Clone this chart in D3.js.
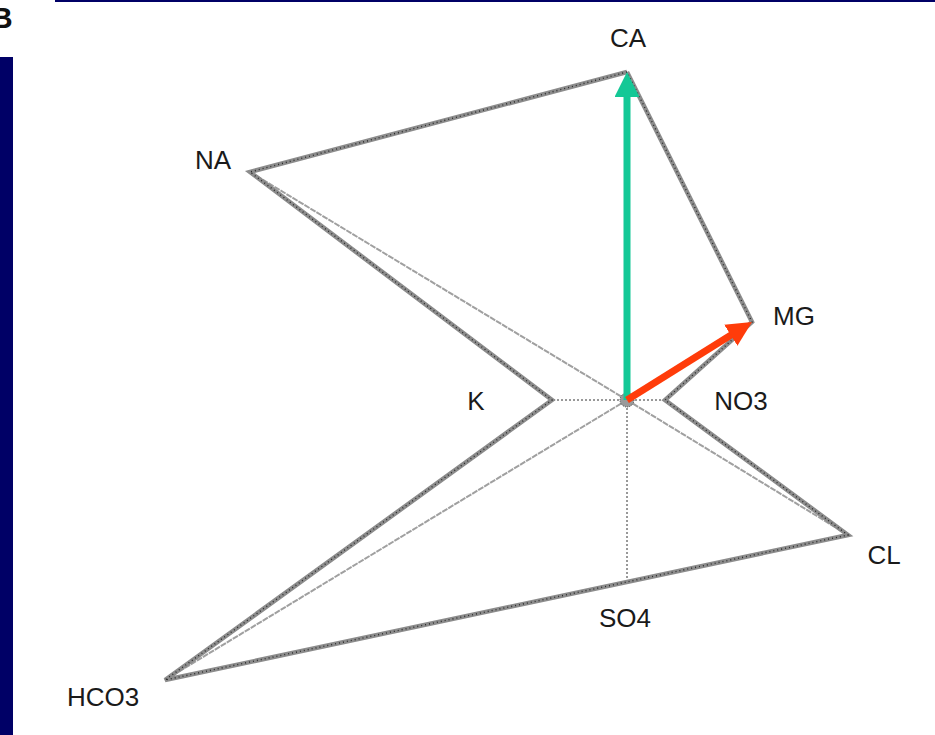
<!DOCTYPE html>
<html>
<head>
<meta charset="utf-8">
<script src="https://cdn.jsdelivr.net/npm/d3@7"></script>
<style>
  body { margin: 0; background: #fff; }
  svg { display: block; }
</style>
</head>
<body>
<div id="vizcont"></div>
<script>
// variable loadings (first two axes)
var ions = ["CA", "NA", "MG", "K", "NO3", "CL", "SO4", "HCO3"];
var axis1 = [0.00, -3.77, 1.25, -0.75, 0.38, 2.21, 0.00, -4.62];
var axis2 = [3.28, 2.28, 0.78, 0.00, 0.00, -1.35, -1.82, -2.80];

// order in which the tips are joined
var outline = ["CA", "NA", "K", "HCO3", "CL", "NO3", "MG", "CA"];
// rays drawn from the origin
var raysSolid = ["NA", "CL", "HCO3"];
var raysDotted = ["K", "NO3", "SO4"];
// the two highlighted vectors
var arrows = [{ name: "CA", color: "#14c896" }, { name: "MG", color: "#ff3c0a" }];

var width = 935, height = 735;

var svg = d3.select("#vizcont")
    .append("svg")
    .attr("width", width)
    .attr("height", height);

var x = d3.scaleLinear().domain([-4.62, 2.21]).range([165, 848]);
var y = d3.scaleLinear().domain([-2.80, 3.28]).range([680, 72]);

var pts = {};
ions.forEach(function(d, i) { pts[d] = [axis1[i], axis2[i]]; });

// slide frame
svg.append("rect").attr("x", 55).attr("y", 0).attr("width", 880).attr("height", 2).attr("fill", "#000066");
svg.append("rect").attr("x", 0).attr("y", 57).attr("width", 13).attr("height", 678).attr("fill", "#000066");
// panel letter, cut by the left edge as in the slide
svg.append("text")
    .attr("x", -9).attr("y", 28)
    .style("font", "bold 30px 'Liberation Sans', Arial, sans-serif")
    .attr("fill", "#111")
    .text("B");

var g = svg.append("g");

// rays from origin
g.selectAll("line.ray")
    .data(raysSolid)
    .enter().append("line")
    .attr("class", "ray")
    .attr("x1", x(0)).attr("y1", y(0))
    .attr("x2", function(d) { return x(pts[d][0]); })
    .attr("y2", function(d) { return y(pts[d][1]); })
    .attr("stroke", "#a0a0a0")
    .style("stroke-width", "2px")
    .style("stroke-dasharray", "6,1");

g.selectAll("line.dot")
    .data(raysDotted)
    .enter().append("line")
    .attr("class", "dot")
    .attr("x1", x(0)).attr("y1", y(0))
    .attr("x2", function(d) { return x(pts[d][0]); })
    .attr("y2", function(d) { return y(pts[d][1]); })
    .attr("stroke", "#333")
    .style("stroke-width", "1px")
    .style("stroke-dasharray", "2,2");

// outline joining the tips
var line = d3.line()
    .x(function(d) { return x(pts[d][0]); })
    .y(function(d) { return y(pts[d][1]); });

g.append("path")
    .attr("d", line(outline))
    .attr("fill", "none")
    .attr("stroke", "#8c8c8c")
    .attr("stroke-linejoin", "miter")
    .style("stroke-width", "4.5px");
g.append("path")
    .attr("d", line(outline))
    .attr("fill", "none")
    .attr("stroke", "#2a2a2a")
    .style("stroke-width", "1.4px")
    .style("stroke-dasharray", "1,3");

// origin blob
g.append("circle")
    .attr("cx", x(0)).attr("cy", y(0)).attr("r", 7)
    .attr("fill", "#9a9a9a")
    .attr("stroke", "#444")
    .style("stroke-dasharray", "1,1");

// arrows
var defs = svg.append("defs");
arrows.forEach(function(a, i) {
    defs.append("marker")
        .attr("id", "head" + i)
        .attr("markerUnits", "userSpaceOnUse")
        .attr("viewBox", "0 0 10 10")
        .attr("refX", 2).attr("refY", 5)
        .attr("markerWidth", 25).attr("markerHeight", 25)
        .attr("orient", "auto")
        .append("path")
        .attr("d", "M0,0L10,5L0,10Z")
        .attr("fill", a.color);
});

g.selectAll("line.arrow")
    .data(arrows)
    .enter().append("line")
    .attr("class", "arrow")
    .attr("x1", x(0)).attr("y1", y(0))
    .attr("x2", function(d) {
        var p = pts[d.name], len = Math.hypot(x(p[0]) - x(0), y(p[1]) - y(0));
        return x(0) + (x(p[0]) - x(0)) * (len - 20) / len;
    })
    .attr("y2", function(d) {
        var p = pts[d.name], len = Math.hypot(x(p[0]) - x(0), y(p[1]) - y(0));
        return y(0) + (y(p[1]) - y(0)) * (len - 20) / len;
    })
    .attr("stroke", function(d) { return d.color; })
    .style("stroke-width", "7px")
    .attr("marker-end", function(d, i) { return "url(#head" + i + ")"; });

// labels
var labelPos = {
    CA: [1, -34, "middle"], NA: [-37, -12, "middle"], MG: [21, -6, "start"],
    K: [-76, 1, "middle"], NO3: [76, 1, "middle"], CL: [36, 20, "middle"],
    SO4: [-2, 36, "middle"], HCO3: [-62, 17, "middle"]
};
g.selectAll("text.lab")
    .data(ions)
    .enter().append("text")
    .attr("class", "lab")
    .attr("x", function(d) { return x(pts[d][0]) + labelPos[d][0]; })
    .attr("y", function(d) { return y(pts[d][1]) + labelPos[d][1]; })
    .attr("dy", "0.35em")
    .attr("text-anchor", function(d) { return labelPos[d][2]; })
    .style("font", "26px 'Liberation Sans', Arial, sans-serif")
    .attr("fill", "#1a1a1a")
    .text(function(d) { return d; });
</script>
</body>
</html>
